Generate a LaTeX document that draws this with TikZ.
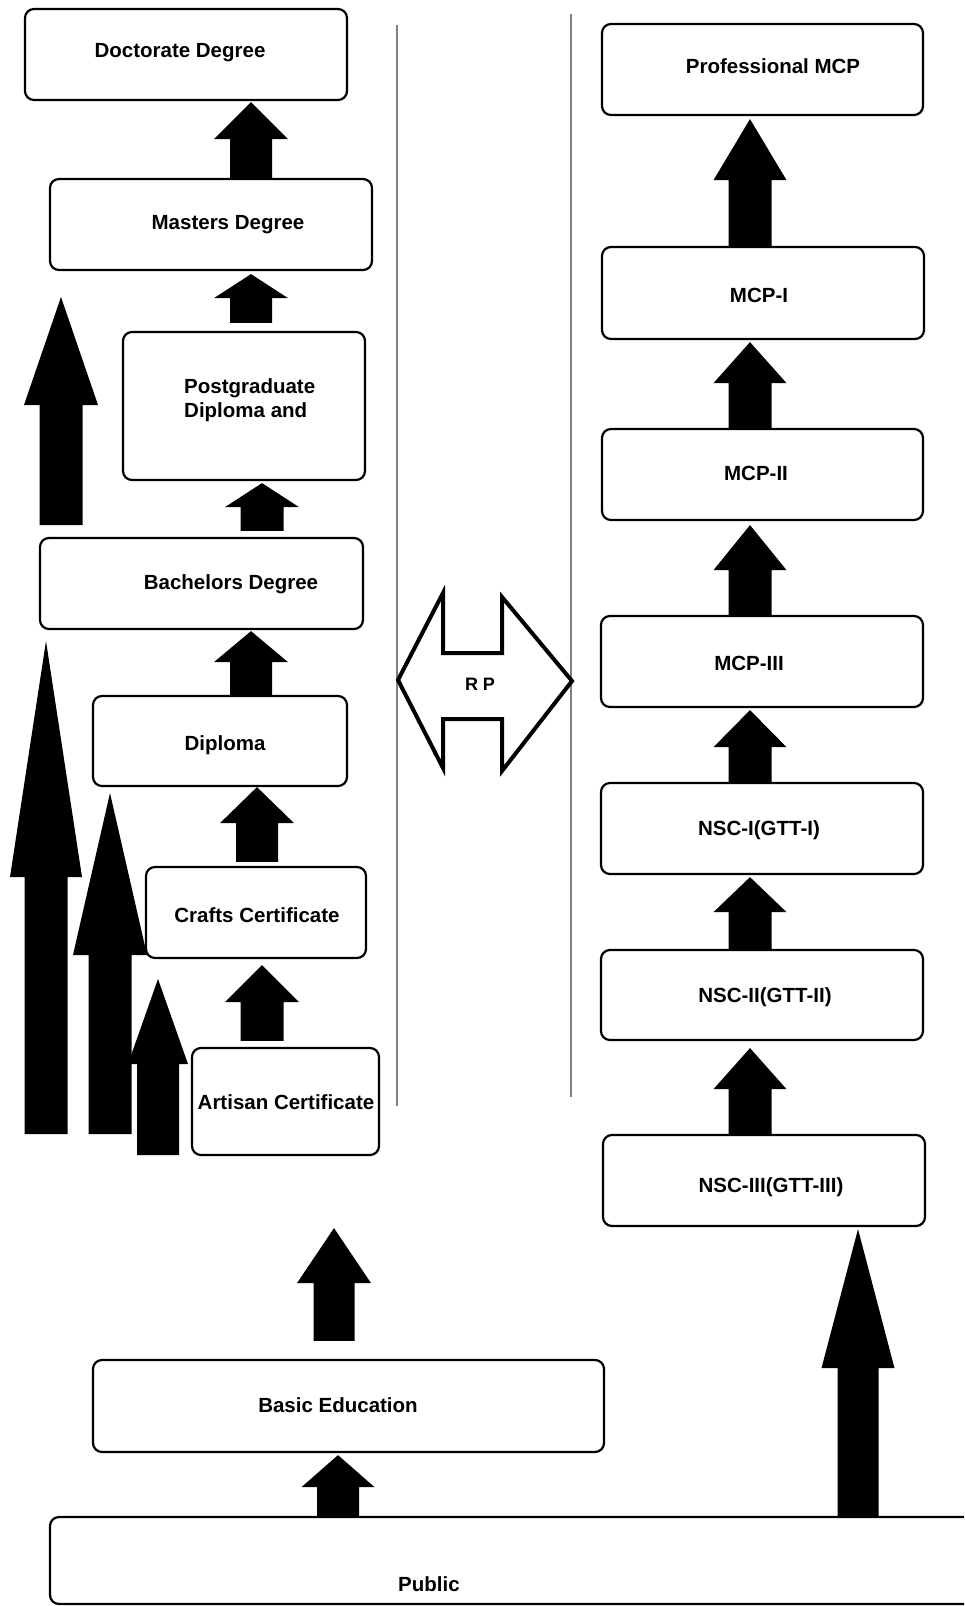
\documentclass[tikz,border=0pt]{standalone}
\usepackage{fontspec}
\setmainfont{Liberation Sans}
\usetikzlibrary{fit,calc}
\tikzset{
  box/.style={draw=black, line width=2.2pt, rounded corners=9pt, inner sep=0pt, fill=white},
  lbl/.style={font=\bfseries\fontsize{20.5}{24}\selectfont, anchor=base, inner sep=0pt, text=black},
  vline/.style={draw=black!50, line width=1.6pt},
  blk/.style={fill=black},
  rpshape/.style={draw=black, line width=4pt, fill=white, miter limit=10},
}
% box: name, x1, y1, x2, y2, text x, text visual-centre y, text
\newcommand\bx[8]{%
  \node[box, fit={(#2,#3)(#4,#5)}] (#1) {};
  \node[lbl] (#1-t) at (#6,{#7+7}) {#8};}
% block arrow between nodes: x, upper node, tip offset, head length, lower node, gap, head half width, shaft half width
\newcommand\stepup[8]{%
  \fill[blk] let \p1=(#2.south), \p2=(#5.north) in
  (#1pt,\y1-#3pt) -- ({#1pt+#7pt},\y1-#3pt-#4pt) -- ({#1pt+#8pt},\y1-#3pt-#4pt)
  -- ({#1pt+#8pt},\y2+#6pt) -- ({#1pt-#8pt},\y2+#6pt) -- ({#1pt-#8pt},\y1-#3pt-#4pt)
  -- ({#1pt-#7pt},\y1-#3pt-#4pt) -- cycle;}
% free block arrow: x, tip y, head base y, bottom y, head half width, shaft half width
\newcommand\blockraw[6]{%
  \fill[blk] (#1,#2) -- ({#1+#5},#3) -- ({#1+#6},#3) -- ({#1+#6},#4)
  -- ({#1-#6},#4) -- ({#1-#6},#3) -- ({#1-#5},#3) -- cycle;}
\begin{document}
\begin{tikzpicture}[x=1pt, y=-1pt]
\useasboundingbox (0,0) rectangle (964,1606);
\clip (0,0) rectangle (964,1606);
\fill[white] (0,0) rectangle (964,1606);

% dividing lines
\draw[vline] (397,25) coordinate (l1a) -- (397,1106) coordinate (l1b);
\draw[vline] (571,14) coordinate (l2a) -- (571,1097) coordinate (l2b);

% left column
\bx{doc}{25}{9}{347}{100}{180}{50}{Doctorate Degree}
\bx{mas}{50}{179}{372}{270}{228}{222}{Masters Degree}
\node[box, fit={(123,332)(365,480)}] (pgd) {};
\node[lbl, anchor=west, align=left] (pgd-t) at (184,400) {Postgraduate\\Diploma and};
\bx{bac}{40}{538}{363}{629}{231}{582}{Bachelors Degree}
\bx{dip}{93}{696}{347}{786}{225}{743}{Diploma}
\bx{cra}{146}{867}{366}{958}{257}{915}{Crafts Certificate}
\bx{art}{192}{1048}{379}{1155}{286}{1102}{Artisan Certificate}

% right column
\bx{pro}{602}{24}{923}{115}{773}{66}{Professional MCP}
\bx{mc1}{602}{247}{924}{339}{759}{295}{MCP-I}
\bx{mc2}{602}{429}{923}{520}{756}{473}{MCP-II}
\bx{mc3}{601}{616}{923}{707}{749}{663}{MCP-III}
\bx{ns1}{601}{783}{923}{874}{759}{828}{NSC-I(GTT-I)}
\bx{ns2}{601}{950}{923}{1040}{765}{995}{NSC-II(GTT-II)}
\bx{ns3}{603}{1135}{925}{1226}{771}{1185}{NSC-III(GTT-III)}

% bottom
\bx{bas}{93}{1360}{604}{1452}{338}{1405}{Basic Education}
\bx{pub}{50}{1517}{1010}{1604}{429}{1584}{Public}

% step arrows, left
\stepup{251}{doc}{1}{37}{mas}{0}{37}{21}
\stepup{251}{mas}{3}{24}{pgd}{8}{37}{21}
\stepup{262}{pgd}{2}{24}{bac}{6}{37}{21.5}
\stepup{251}{bac}{1}{31}{dip}{0}{37}{21}
\stepup{257}{dip}{0}{36}{cra}{4}{37}{21}
\stepup{262}{cra}{6}{37}{art}{6}{37}{21.5}
\stepup{334}{art}{72}{55}{bas}{18}{37}{20.5}
\stepup{338}{bas}{2}{32}{pub}{0}{36.5}{21}

% step arrows, right
\stepup{750}{pro}{3}{61}{mc1}{0}{36.5}{21.5}
\stepup{750}{mc1}{2}{41}{mc2}{0}{36.5}{21.5}
\stepup{750}{mc2}{4}{45}{mc3}{0}{36.5}{21.5}
\stepup{750}{mc3}{2}{37}{ns1}{0}{36.5}{21.5}
\stepup{750}{ns1}{2}{35}{ns2}{0}{36.5}{21.5}
\stepup{750}{ns2}{7}{41}{ns3}{0}{36.5}{21.5}
\stepup{858}{ns3}{2}{139}{pub}{0}{36.5}{20.5}

% bypass arrows, left
\blockraw{61}{297}{405}{525}{37}{21.5}
\blockraw{46}{641}{877}{1134}{36}{21.5}
\blockraw{110}{793}{955}{1134}{37}{21.5}
\blockraw{158}{979}{1064}{1155}{30}{21}

% RP double arrow
\draw[rpshape] (398,680) -- (443,593) -- (443,653) -- (502,653) -- (502,597)
  -- (572,681) -- (502,771) -- (502,719) -- (443,719) -- (443,768) -- cycle;
\node[font=\bfseries\fontsize{18}{20}\selectfont, anchor=base, inner sep=0pt] (rp) at (480,690.5) {R P};
\end{tikzpicture}
\end{document}
